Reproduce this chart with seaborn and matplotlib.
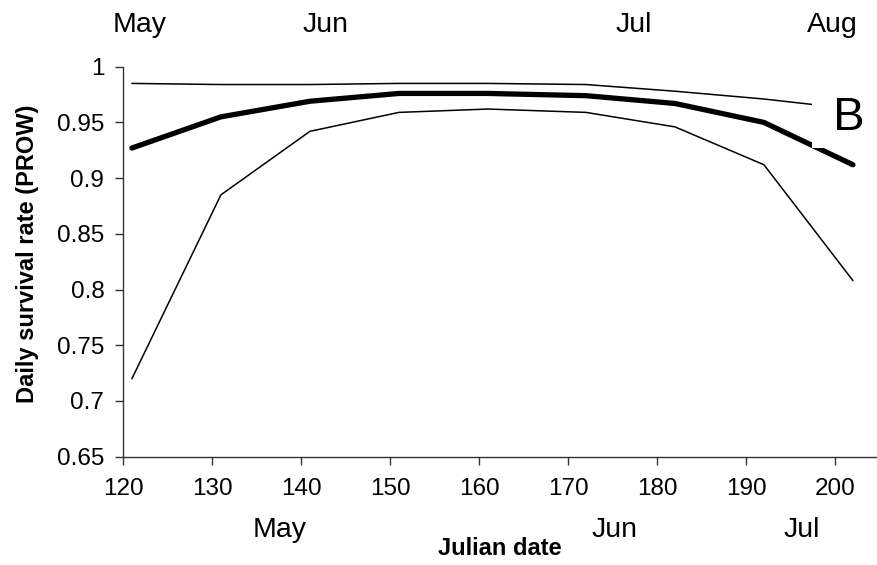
import matplotlib
matplotlib.use("Agg")
import matplotlib.pyplot as plt
import seaborn as sns
import pandas as pd

# Julian dates of the estimates
julian_day = [121, 131, 141, 151, 161, 172, 182, 192, 202]

# Daily survival rate of PROW nests: estimate with upper and lower confidence limits
dsr_estimate = [0.927, 0.955, 0.969, 0.976, 0.976, 0.974, 0.967, 0.950, 0.912]
dsr_upper = [0.985, 0.984, 0.984, 0.985, 0.985, 0.984, 0.978, 0.971, 0.962]
dsr_lower = [0.720, 0.885, 0.942, 0.959, 0.962, 0.959, 0.946, 0.912, 0.808]

y_ticks = [0.65, 0.7, 0.75, 0.8, 0.85, 0.9, 0.95, 1.0]
x_ticks = [120, 130, 140, 150, 160, 170, 180, 190, 200]

# Month labels above and below the plot, positioned in Julian-date units
top_months = ["May", "Jun", "Jul", "Aug"]
top_month_pos = [121.9, 142.8, 177.4, 199.7]
bottom_months = ["May", "Jun", "Jul"]
bottom_month_pos = [137.6, 175.2, 196.2]

panel_label = "B"

sns.set_style("ticks")
plt.rcParams["font.family"] = ["Liberation Sans", "DejaVu Sans"]
plt.rcParams["text.color"] = "black"
plt.rcParams["xtick.color"] = "black"
plt.rcParams["ytick.color"] = "black"

df = pd.DataFrame({
    "day": julian_day,
    "estimate": dsr_estimate,
    "upper": dsr_upper,
    "lower": dsr_lower,
})

fig = plt.figure(figsize=(8.77, 5.65), dpi=100)
ax = fig.add_axes([123 / 877, 1 - 456.7 / 565, 754 / 877, 390 / 565])

sns.lineplot(data=df, x="day", y="upper", color="black", lw=1.1, ax=ax)
sns.lineplot(data=df, x="day", y="lower", color="black", lw=1.1, ax=ax)
sns.lineplot(data=df, x="day", y="estimate", color="black", lw=3.8, ax=ax,
             solid_capstyle="round")

ax.set_xlim(120, 204.7)
ax.set_ylim(0.65, 1.0)
ax.set_xticks(x_ticks)
ax.set_yticks(y_ticks)
ax.set_yticklabels([f"{v:g}" for v in y_ticks])
ax.tick_params(axis="both", direction="out", length=5.5, width=1,
               color="#333333", labelsize=17.5)
ax.tick_params(axis="y", pad=8)
ax.tick_params(axis="x", pad=10)
ax.set_xlabel("")
ax.set_ylabel("")

for side in ["top", "right"]:
    ax.spines[side].set_visible(False)
for side in ["left", "bottom"]:
    ax.spines[side].set_color("#333333")
    ax.spines[side].set_linewidth(1)

# Axis titles
ax.text(0.5, -0.236, "Julian date", transform=ax.transAxes, ha="center",
        va="center", fontsize=17, fontweight="bold")
ax.text(-0.1273, 0.52, "Daily survival rate (PROW)", transform=ax.transAxes,
        ha="center", va="center", rotation=90, fontsize=17, fontweight="bold")

# Month labels
for name, pos in zip(top_months, top_month_pos):
    ax.text(pos, 1.0374, name, ha="center", va="center", fontsize=20.5,
            clip_on=False)
for name, pos in zip(bottom_months, bottom_month_pos):
    ax.text(pos, 0.584, name, ha="center", va="center", fontsize=20.5,
            clip_on=False)

# Panel label on a white box that covers the line ends behind it
ax.text(198.3, 0.943, " " + panel_label, ha="left", va="baseline", fontsize=34,
        zorder=10, bbox=dict(facecolor="white", edgecolor="none", pad=5.8))

fig.savefig("out.png", dpi=100)
